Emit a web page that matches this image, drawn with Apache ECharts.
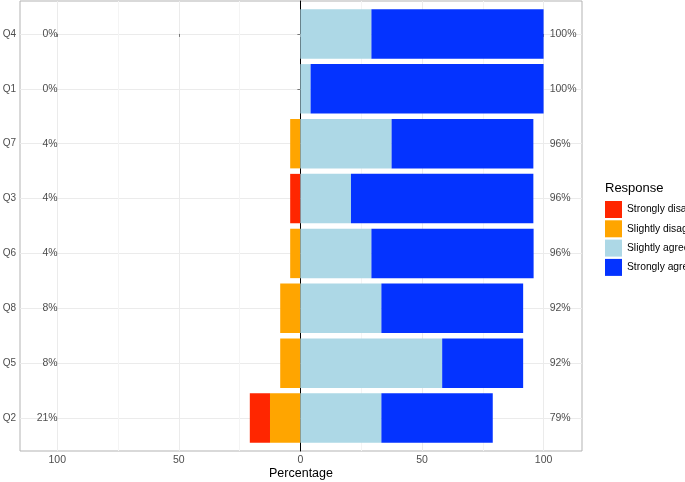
<!DOCTYPE html>
<html><head><meta charset="utf-8">
<script src="https://cdn.jsdelivr.net/npm/echarts@6/dist/echarts.min.js"></script>
<style>html,body{margin:0;padding:0;background:#fff}#c{width:685px;height:482px}</style>
</head><body><div id="c"></div>
<script>
// Data (percent of responses), top to bottom
const categories = ['Q4','Q1','Q7','Q3','Q6','Q8','Q5','Q2'];
const stronglyDisagree = [0, 0, 0, 4.2, 0, 0, 0, 8.3];
const slightlyDisagree = [0, 0, 4.2, 0, 4.2, 8.3, 8.3, 12.5];
const slightlyAgree    = [29.2, 4.2, 37.5, 20.8, 29.2, 33.3, 58.3, 33.3];
const stronglyAgree    = [70.8, 95.8, 58.3, 75.0, 66.7, 58.3, 33.3, 45.8];
const leftPct  = ['0%','0%','4%','4%','4%','8%','8%','21%'];
const rightPct = ['100%','100%','96%','96%','96%','92%','92%','79%'];
const xTicks = [-100, -50, 0, 50, 100];
const xMinorTicks = [-75, -25, 25, 75];

const FONT = '"Liberation Sans", Arial, sans-serif';
const XMIN = -115.3, XMAX = 115.8;
const colors = {sd:'#FF2600', sld:'#FFA500', sla:'#ADD8E6', sa:'#0433FF'};

const chart = echarts.init(document.getElementById('c'), null, {renderer:'canvas'});
const yIdx = categories.map((_, i) => i);

const barSeries = (name, vals, color, sign) => ({
  name, type:'bar', xAxisIndex:2, yAxisIndex:2, stack:'tot', barWidth:'90%',
  itemStyle:{color}, emphasis:{disabled:true}, z:3,
  data: vals.map(v => v === 0 ? '-' : sign * v)
});

chart.setOption({
  animation:false,
  textStyle:{fontFamily:FONT},
  title:{text:'Response', left:600, top:177, textStyle:{fontSize:13, fontWeight:'normal', color:'#000', fontFamily:FONT}},
  legend:{
    orient:'vertical', left:600, top:196, itemWidth:17, itemHeight:17, itemGap:2.3,
    data:['Strongly disagree','Slightly disagree','Slightly agree','Strongly agree'],
    textStyle:{fontSize:10.3, color:'#000', fontFamily:FONT}, icon:'rect', selectedMode:false
  },
  grid:[
    {left:20, right:103, top:1, bottom:31, show:true, borderColor:'#B3B3B3', borderWidth:1, backgroundColor:'#fff', outerBoundsMode:'none', containLabel:false},
    {left:20, right:103, top:6.5, bottom:36.5, outerBoundsMode:'none', containLabel:false}
  ],
  xAxis:[
    {gridIndex:0, type:'value', min:XMIN, max:XMAX,
     axisLine:{show:false},
     axisTick:{show:true, customValues:xTicks, length:3, lineStyle:{color:'#777'}},
     axisLabel:{customValues:xTicks, formatter:v => String(Math.abs(v)), color:'#4D4D4D', fontSize:10.5, margin:4},
     splitLine:{show:true, lineStyle:{color:'#EBEBEB', width:1}},
     name:'Percentage', nameLocation:'middle', nameGap:16, nameMoveOverlap:false,
     nameTextStyle:{fontSize:12.5, color:'#000', verticalAlign:'top'}},
    {gridIndex:0, type:'value', min:XMIN, max:XMAX,
     axisLine:{show:false}, axisTick:{show:false, customValues:xMinorTicks},
     axisLabel:{show:false, customValues:xMinorTicks},
     splitLine:{show:true, lineStyle:{color:'#F4F4F4', width:1}}},
    {gridIndex:1, type:'value', min:XMIN, max:XMAX, show:false, splitLine:{show:false}}
  ],
  yAxis:[
    {gridIndex:0, type:'value', inverse:true, min:-0.6, max:7.6,
     axisLine:{show:false},
     axisTick:{show:true, customValues:yIdx, length:3, lineStyle:{color:'#777'}},
     axisLabel:{customValues:yIdx, formatter:v => categories[Math.round(v)], color:'#4D4D4D', fontSize:10, margin:4},
     splitLine:{show:true, lineStyle:{color:'#EBEBEB', width:1}}},
    {gridIndex:0, type:'value', inverse:true, min:-0.6, max:7.6,
     axisLine:{show:true, onZero:true, onZeroAxisIndex:0, lineStyle:{color:'#000', width:1}},
     axisTick:{show:false}, axisLabel:{show:false}, splitLine:{show:false}},
    {gridIndex:1, type:'category', inverse:true, data:categories, show:false}
  ],
  series:[
    barSeries('Slightly disagree', slightlyDisagree, colors.sld, -1),
    barSeries('Strongly disagree', stronglyDisagree, colors.sd, -1),
    barSeries('Slightly agree', slightlyAgree, colors.sla, 1),
    barSeries('Strongly agree', stronglyAgree, colors.sa, 1),
    {type:'scatter', xAxisIndex:2, yAxisIndex:2, symbolSize:0, silent:true,
     data: leftPct.map((t, i) => ({value:[-99.8, categories[i]], label:{formatter:t}})),
     label:{show:true, position:'left', distance:0, color:'#1A1A1A', fontSize:10.5, fontFamily:FONT}},
    {type:'scatter', xAxisIndex:2, yAxisIndex:2, symbolSize:0, silent:true,
     data: rightPct.map((t, i) => ({value:[102.5, categories[i]], label:{formatter:t}})),
     label:{show:true, position:'right', distance:0, color:'#1A1A1A', fontSize:10.5, fontFamily:FONT}}
  ]
});
</script></body></html>
